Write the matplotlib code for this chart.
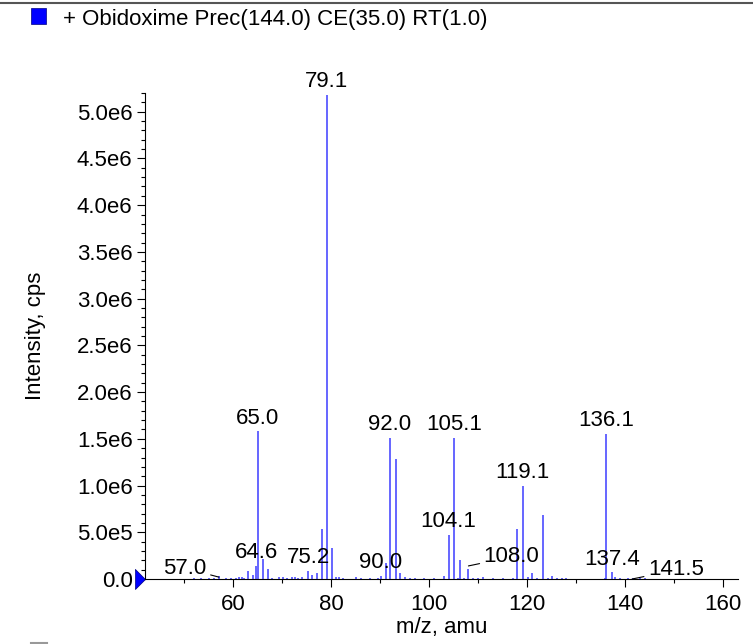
import matplotlib
matplotlib.use("Agg")
import matplotlib.pyplot as plt
import matplotlib.transforms as mtransforms
from matplotlib.ticker import MultipleLocator, FuncFormatter
from matplotlib.lines import Line2D
from matplotlib.patches import Rectangle

plt.rcParams['font.family'] = ['Liberation Sans', 'DejaVu Sans']

title = "+ Obidoxime Prec(144.0) CE(35.0) RT(1.0)"

# peak m/z and intensity (cps)
mz = [52.0, 53.5, 55.0, 56.0, 57.1, 58.5, 59.5, 60.5, 61.2, 61.7, 62.3, 63.1,
      64.1, 64.7, 65.0, 66.1, 67.1, 68.0, 69.3, 70.2, 71.0, 72.0, 72.6, 73.2,
      74.1, 75.3, 76.1, 77.1, 78.2, 79.1, 80.2, 81.0, 81.6, 82.3, 85.0, 86.0,
      88.0, 89.5, 90.2, 91.2, 92.0, 93.2, 94.1, 95.0, 96.0, 97.0, 99.0, 101.0,
      103.0, 104.1, 105.1, 105.8, 106.3, 107.0, 108.0, 109.0, 110.0, 111.0,
      113.0, 115.0, 117.0, 118.0, 119.1, 120.2, 121.0, 122.0, 123.3, 124.3,
      125.1, 126.0, 127.0, 128.0, 135.8, 136.1, 137.4, 138.0, 139.0, 140.5,
      141.5, 143.0, 144.0]
intensity = [0.01e6, 0.01e6, 0.01e6, 0.01e6, 0.03e6, 0.01e6, 0.01e6, 0.01e6,
             0.02e6, 0.02e6, 0.01e6, 0.09e6, 0.04e6, 0.14e6, 1.58e6, 0.21e6,
             0.11e6, 0.01e6, 0.02e6, 0.02e6, 0.01e6, 0.02e6, 0.02e6, 0.01e6,
             0.02e6, 0.09e6, 0.04e6, 0.06e6, 0.53e6, 5.18e6, 0.33e6, 0.02e6,
             0.02e6, 0.01e6, 0.02e6, 0.01e6, 0.01e6, 0.01e6, 0.03e6, 0.17e6,
             1.51e6, 1.28e6, 0.06e6, 0.02e6, 0.01e6, 0.01e6, 0.01e6, 0.01e6,
             0.03e6, 0.47e6, 1.51e6, 0.01e6, 0.20e6, 0.01e6, 0.11e6, 0.01e6,
             0.01e6, 0.02e6, 0.01e6, 0.01e6, 0.01e6, 0.54e6, 1.00e6, 0.02e6,
             0.06e6, 0.01e6, 0.69e6, 0.01e6, 0.03e6, 0.01e6, 0.01e6, 0.01e6,
             0.01e6, 1.55e6, 0.07e6, 0.02e6, 0.01e6, 0.01e6, 0.01e6, 0.01e6,
             0.01e6]

# labelled peaks placed directly above the stick
top_labels = ["64.6", "65.0", "75.2", "79.1", "90.0", "92.0", "104.1",
              "105.1", "119.1", "136.1", "137.4"]
top_mz = [64.7, 65.0, 75.4, 79.1, 90.0, 92.0, 103.9, 105.1, 119.1, 136.1, 137.4]
top_int = [0.14e6, 1.58e6, 0.09e6, 5.18e6, 0.03e6, 1.51e6, 0.47e6, 1.51e6,
           1.00e6, 1.55e6, 0.07e6]

# labelled peaks with a leader line
lead_labels = ["57.0", "108.0", "141.5"]
lead_mz = [57.1, 108.0, 141.4]
lead_int = [0.02e6, 0.14e6, 0.0]

fig = plt.figure(figsize=(7.53, 6.44), dpi=100)
ax = fig.add_axes([0.1926, 0.1009, 0.7874, 0.7547])

ax.vlines(mz, 0, intensity, color='#3c3cff', lw=1.1)

fs = 16
for lab, x, y in zip(top_labels, top_mz, top_int):
    ax.annotate(lab, (x, y), xytext=(0, 2), textcoords='offset points',
                ha='center', va='bottom', fontsize=fs)

lead_off = [(-9, 6.5), (11, 6.5), (11.5, 6.5)]
lead_ha = ['right', 'left', 'left']
for lab, x, y, off, ha in zip(lead_labels, lead_mz, lead_int, lead_off, lead_ha):
    ax.annotate(lab, (x, y), xytext=off, textcoords='offset points',
                ha=ha, va='center', fontsize=fs,
                arrowprops=dict(arrowstyle='-', color='black', lw=0.8,
                                shrinkA=1, shrinkB=0))

ax.set_xlim(42, 163)
ax.set_ylim(0, 5.2e6)
ax.spines['top'].set_visible(False)
ax.spines['right'].set_visible(False)
ax.xaxis.set_major_locator(MultipleLocator(20))
ax.xaxis.set_minor_locator(MultipleLocator(10))
ax.yaxis.set_major_locator(MultipleLocator(0.5e6))
ax.yaxis.set_minor_locator(MultipleLocator(0.1e6))


def sci(v, pos):
    if v == 0:
        return "0.0"
    s = "%.1e" % v
    m, e = s.split("e")
    return m + "e" + str(int(e))


ax.yaxis.set_major_formatter(FuncFormatter(sci))
ax.xaxis.set_major_formatter(FuncFormatter(lambda v, p: "%d" % v))
ax.tick_params(axis='both', which='major', labelsize=fs, length=6, width=0.8, pad=3)
ax.tick_params(axis='x', which='major', pad=5)
ax.tick_params(axis='both', which='minor', length=3, width=0.8)
ax.set_xlabel("m/z, amu", fontsize=fs, labelpad=1)
ax.set_ylabel("Intensity, cps", fontsize=fs, labelpad=22)

# blue marker at the origin, tip touching the axis
tri = [(-1, 1), (0, 0), (-1, -1), (-1, 1)]
ax.plot([0], [0], marker=tri, color='blue', markersize=14.4, markeredgewidth=0.5,
        markeredgecolor='#000080', transform=ax.transAxes, clip_on=False)

# header: line, legend square and title
fig.add_artist(Line2D([0, 1], [1 - 3 / 644, 1 - 3 / 644], color='#555555', lw=1.5))
fig.add_artist(Rectangle((31 / 753, 1 - 24 / 644), 15 / 753, 16 / 644,
                         facecolor='blue', edgecolor='#000080', lw=0.5))
fig.text(63 / 753, 1 - 19 / 644, title, fontsize=fs, va='center', ha='left')
fig.add_artist(Line2D([31 / 753, 47 / 753], [1 - 643 / 644, 1 - 643 / 644],
                      color='#999999', lw=1.5))

fig.savefig("out.png", dpi=100)
